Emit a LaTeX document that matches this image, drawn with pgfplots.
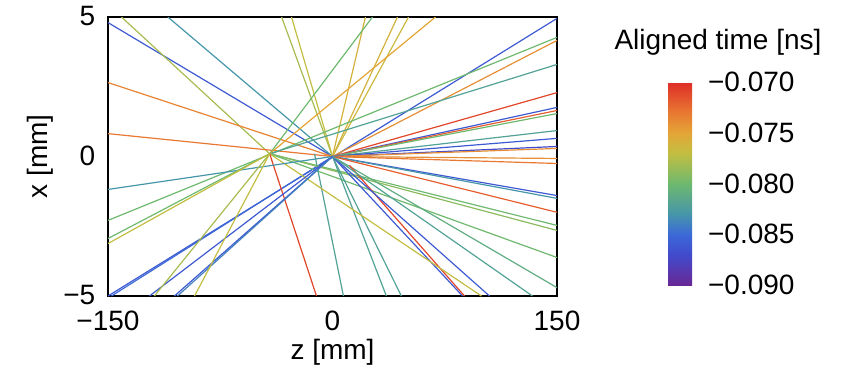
\documentclass[border=0pt]{standalone}
\usepackage{fontspec}
\setmainfont{Liberation Sans}
\usepackage{pgfplots}
\pgfplotsset{compat=1.18}
\pgfplotsset{colormap={tmap}{rgb255(0cm)=(105,40,150); rgb255(3cm)=(65,75,205); rgb255(5cm)=(60,105,215); rgb255(7cm)=(70,150,170); rgb255(10cm)=(110,185,110); rgb255(13cm)=(195,190,65); rgb255(15cm)=(228,165,55); rgb255(17cm)=(232,120,50); rgb255(20cm)=(222,45,40)}}
\newcommand\trk[3]{\addplot[mesh,shader=flat,line width=0.6pt,point meta={#1}] coordinates {#2 #3};}
\begin{document}
\begin{tikzpicture}[font=\fontsize{14}{16}\selectfont]
\begin{axis}[name=main,
  scale only axis, width=224.5pt, height=139.5pt,
  xmin=-150, xmax=150, ymin=-5, ymax=5,
  xtick={-150,0,150}, xticklabels={−150,0,150},
  ytick={-5,0,5}, yticklabels={−5,0,5},
  xticklabel style={inner sep=0.4pt, yshift=-6.8pt},
  yticklabel style={inner sep=0.4pt, xshift=-5.77pt, yshift=0.5pt},
  major tick length=0pt,
  axis line style={line width=1pt},
  xlabel={z [mm]}, ylabel={x [mm]},
  xlabel style={at={(axis description cs:0.5,-0.2007)}, anchor=center},
  ylabel style={at={(axis description cs:-0.1514,0.5)}, anchor=center},
  colormap name=tmap,
  point meta min=-0.090, point meta max=-0.070,
  colorbar,
  colorbar style={at={(parent axis.south east)}, anchor=south west, xshift=47pt, yshift=5.5pt,
    width=12pt, height=101.5pt,
    scaled y ticks=false,
    ytick={-0.09,-0.085,-0.08,-0.075,-0.07},
    yticklabels={−0.090,−0.085,−0.080,−0.075,−0.070},
    axis line style={draw=none}, major tick length=0pt,
    yticklabel style={xshift=4.5pt}},
]
\trk{-0.086}{(-150,-5)}{(150,4.95)}
\trk{-0.085}{(-147.7,-5)}{(0,0)}
\trk{-0.086}{(-150,4.8)}{(0,0)}
\trk{-0.078}{(-141,5)}{(-42,0.1)}
\trk{-0.083}{(-110,5)}{(0,0)}
\trk{-0.0735}{(-150,2.65)}{(0,0)}
\trk{-0.073}{(-150,0.82)}{(0,0)}
\trk{-0.078}{(-34,5)}{(0,0)}
\trk{-0.077}{(-27.4,5)}{(0,0)}
\trk{-0.076}{(22,5)}{(0,0)}
\trk{-0.080}{(26.7,5)}{(-42,0.1)}
\trk{-0.076}{(43.4,5)}{(0,0)}
\trk{-0.0765}{(50.8,5)}{(0,0)}
\trk{-0.075}{(68.8,5)}{(-42,0.1)}
\trk{-0.080}{(-150,-2.29)}{(150,4.27)}
\trk{-0.074}{(0,0)}{(150,4.16)}
\trk{-0.082}{(-42,0.1)}{(150,3.3)}
\trk{-0.071}{(0,0)}{(150,2.29)}
\trk{-0.086}{(0,0)}{(150,1.76)}
\trk{-0.072}{(0,0)}{(150,1.65)}
\trk{-0.080}{(0,0)}{(150,1.54)}
\trk{-0.082}{(0,0)}{(150,0.93)}
\trk{-0.086}{(0,0)}{(150,0.65)}
\trk{-0.087}{(0,0)}{(150,0.36)}
\trk{-0.074}{(0,0)}{(150,0.29)}
\trk{-0.074}{(0,0)}{(150,-0.07)}
\trk{-0.073}{(0,0)}{(150,-0.25)}
\trk{-0.086}{(0,0)}{(150,-1.4)}
\trk{-0.083}{(0,0)}{(150,-1.5)}
\trk{-0.072}{(0,0)}{(150,-2.0)}
\trk{-0.080}{(-42,0.1)}{(150,-2.47)}
\trk{-0.079}{(-42,0.1)}{(150,-2.65)}
\trk{-0.080}{(-42,0.1)}{(150,-3.62)}
\trk{-0.081}{(0,0)}{(150,-4.7)}
\trk{-0.082}{(-12,0.1)}{(7.3,-5)}
\trk{-0.082}{(0,0)}{(36,-5)}
\trk{-0.082}{(0,0)}{(46,-5)}
\trk{-0.086}{(0,0)}{(86.9,-5)}
\trk{-0.071}{(11.4,-0.32)}{(88.2,-5)}
\trk{-0.077}{(-42,0.1)}{(99.5,-5)}
\trk{-0.086}{(0,0)}{(104.9,-5)}
\trk{-0.082}{(0,0)}{(133.6,-5)}
\trk{-0.071}{(-42,0.1)}{(-10.7,-5)}
\trk{-0.083}{(-150,-1.18)}{(0,0)}
\trk{-0.080}{(-150,-2.94)}{(-42,0.1)}
\trk{-0.077}{(-150,-3.12)}{(-42,0.1)}
\trk{-0.086}{(-122.3,-5)}{(0,0)}
\trk{-0.078}{(-119,-5)}{(-42,0.1)}
\trk{-0.086}{(-105.6,-5)}{(0,0)}
\trk{-0.084}{(-103.6,-5)}{(0,0)}
\trk{-0.077}{(-92.2,-5)}{(-42,0.1)}
\end{axis}
\node[anchor=center] at ([xshift=80.5pt,yshift=127pt]main.south east) {Aligned time [ns]};
\path ([xshift=-54pt,yshift=-40pt]main.south west) rectangle ([xshift=371pt,yshift=148pt]main.south west);
\end{tikzpicture}
\end{document}
